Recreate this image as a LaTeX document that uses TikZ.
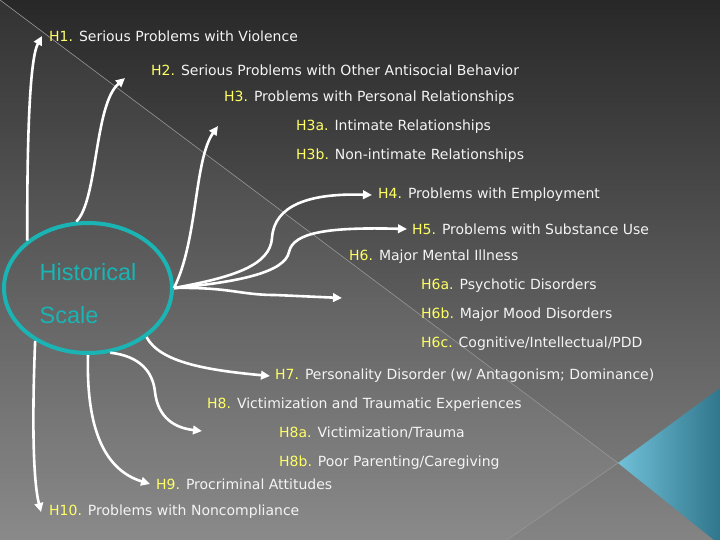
\documentclass[tikz,border=0pt]{standalone}
\usepackage{fontspec}
\setmainfont{DejaVu Sans}
\newfontfamily\arialfont{Liberation Sans}
\usetikzlibrary{positioning,arrows.meta,shapes.geometric}
\definecolor{bgtop}{RGB}{40,40,40}
\definecolor{bgmid}{RGB}{58,58,58}
\definecolor{bgbot}{RGB}{132,132,132}
\definecolor{bgline}{RGB}{150,150,150}
\definecolor{trileft}{RGB}{112,192,216}
\definecolor{triright}{RGB}{48,118,140}
\definecolor{histteal}{RGB}{26,180,180}
\definecolor{hyellow}{RGB}{255,255,102}
\definecolor{itemwhite}{RGB}{244,244,244}
\newcommand{\hnum}[1]{\textcolor{hyellow}{#1}}
\tikzset{
  flowarrow/.style={-{Triangle[length=9pt,width=8.5pt]}, line width=2.6pt, draw=white},
  itemtext/.style={anchor=west, inner sep=0pt, yshift=-2pt, text=itemwhite, font=\fontsize{14}{16}\selectfont},
  histellipse/.style={ellipse, draw=histteal, line width=4pt, minimum width=168pt, minimum height=130pt, inner sep=0pt, align=left, text=histteal, font=\arialfont\fontsize{23.5}{43}\selectfont}
}

\begin{document}
\begin{tikzpicture}[x=1pt, y=-1pt]
  \useasboundingbox (0,0) rectangle (720,540);
  \shade[top color=bgtop, middle color=bgmid, bottom color=bgbot] (0,0) rectangle (720,540);
  \fill[white, fill opacity=0.05] (0,0) -- (618,463) -- (507,540) -- (0,540) -- cycle;
  \draw[bgline, line width=0.6pt] (0,0) -- (618,463) -- (507,540);
  \shade[left color=trileft, right color=triright] (618,463) -- (720,388) -- (720,540) -- (714,540) -- cycle;

  \node[histellipse] (hist) at (88,288) {\rule{0pt}{29pt}Historical\\Scale};

  \node[itemtext] (h1) at (49,34) {\hnum{H1.} Serious Problems with Violence};
  \node[itemtext] (h2) at (151,68) {\hnum{H2.} Serious Problems with Other Antisocial Behavior};
  \node[itemtext] (h3) at (224,96) {\hnum{H3.} Problems with Personal Relationships};
  \node[itemtext] (h3a) at (296,125) {\hnum{H3a.} Intimate Relationships};
  \node[itemtext] (h3b) at (296,154) {\hnum{H3b.} Non-intimate Relationships};
  \node[itemtext] (h4) at (378,193) {\hnum{H4.} Problems with Employment};
  \node[itemtext] (h5) at (412,227) {\hnum{H5.} Problems with Substance Use};
  \node[itemtext] (h6) at (349,255) {\hnum{H6.} Major Mental Illness};
  \node[itemtext] (h6a) at (421,284) {\hnum{H6a.} Psychotic Disorders};
  \node[itemtext] (h6b) at (421,313) {\hnum{H6b.} Major Mood Disorders};
  \node[itemtext] (h6c) at (421,342) {\hnum{H6c.} Cognitive/Intellectual/PDD};
  \node[itemtext] (h7) at (275,374) {\hnum{H7.} Personality Disorder (w/ Antagonism; Dominance)};
  \node[itemtext] (h8) at (207,403) {\hnum{H8.} Victimization and Traumatic Experiences};
  \node[itemtext] (h8a) at (279,431) {\hnum{H8a.} Victimization/Trauma};
  \node[itemtext] (h8b) at (279,461) {\hnum{H8b.} Poor Parenting/Caregiving};
  \node[itemtext] (h9) at (156,482) {\hnum{H9.} Procriminal Attitudes};
  \node[itemtext] (h10) at (49,510) {\hnum{H10.} Problems with Noncompliance};

  \coordinate (h2tip) at (125,78);
  \coordinate (h3tip) at (218,126);
  \coordinate (h6tip) at (342,298);
  \coordinate (h8tip) at (202,431);

  \draw[flowarrow] (hist.142) .. controls (27,150) and (29,60) .. ([xshift=-7pt]h1.west);
  \draw[flowarrow] (hist.100) .. controls (98,200) and (94,105) .. (h2tip);
  \draw[flowarrow] (hist.0) .. controls (198,240) and (194,160) .. (h3tip);
  \draw[flowarrow] (hist.0) .. controls (235,277) and (270,265) .. (272,238) .. controls (274,205) and (310,193) .. ([xshift=-6pt]h4.west);
  \draw[flowarrow] (hist.0) .. controls (240,282) and (285,272) .. (289,252) .. controls (293,232) and (330,227) .. ([xshift=-5pt]h5.west);
  \draw[flowarrow] (hist.0) .. controls (230,287) and (240,295) .. (275,295) -- (h6tip);
  \draw[flowarrow] (hist.-40) .. controls (160,362) and (205,370) .. ([xshift=-5pt]h7.west);
  \draw[flowarrow] (hist.-71) .. controls (140,356) and (153,372) .. (155,392) .. controls (158,418) and (175,428) .. (h8tip);
  \draw[flowarrow] (hist.-90) .. controls (86,430) and (105,470) .. ([xshift=-6pt]h9.west);
  \draw[flowarrow] (hist.-135) .. controls (32,420) and (33,480) .. ([xshift=-8pt]h10.west);
\end{tikzpicture}
\end{document}
